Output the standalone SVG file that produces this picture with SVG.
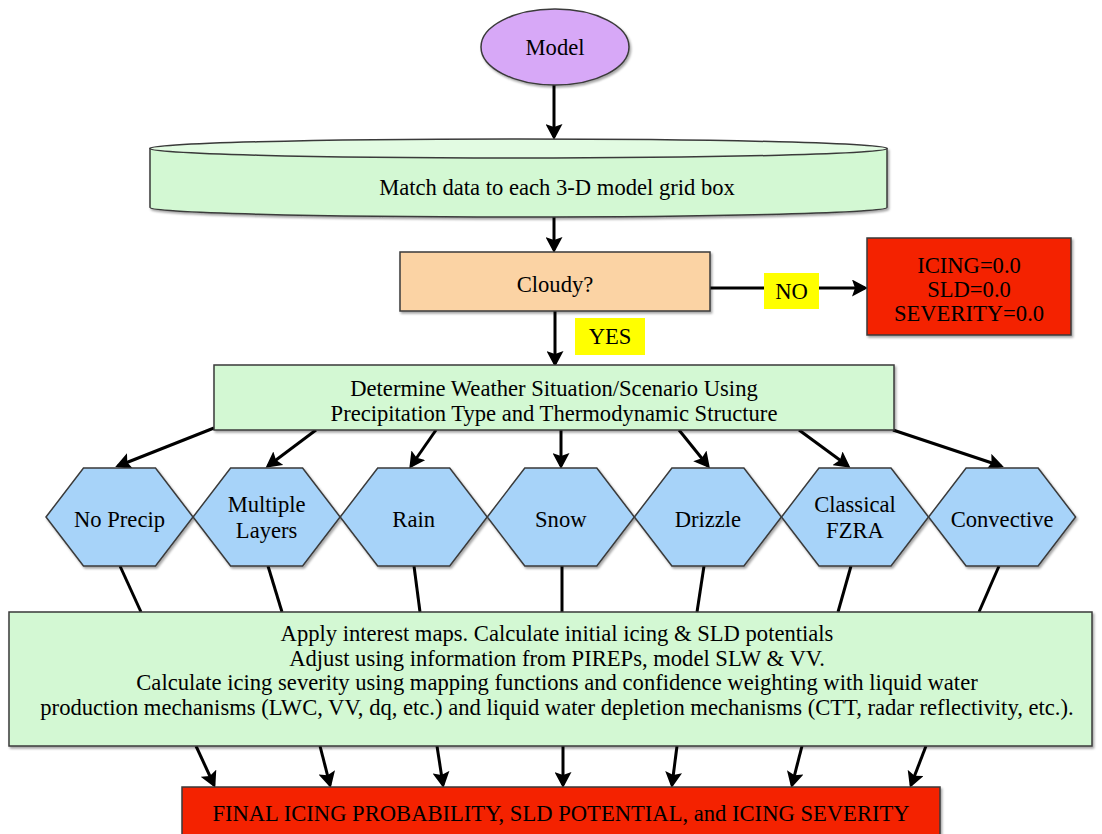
<svg xmlns="http://www.w3.org/2000/svg" width="1102" height="834" viewBox="0 0 1102 834">
<style>
  text { font-family: "Liberation Serif", "Times New Roman", serif; font-size: 22.6px; fill: #000; text-anchor: middle; }
  .box { stroke: #3a3a3a; stroke-width: 1.5; }
  .green { fill: #d3f8d3; }
  .hex { fill: #a7d3f9; stroke: #3a3a3a; stroke-width: 1.5; }
  .red { fill: #f42300; }
  .yellow { fill: #ffff00; stroke: none; }
  .conn line, .conn path { stroke: #000; stroke-width: 3; fill: none; }
  .arr { marker-end: url(#ah); }
</style>
<defs>
  <marker id="ah" markerUnits="userSpaceOnUse" markerWidth="17" markerHeight="17" refX="13" refY="8.5" orient="auto" viewBox="0 0 17 17">
    <path d="M0,0 L16,8.5 L0,17 L3,8.5 Z" fill="#000"/>
  </marker>
  <filter id="sh" x="-5%" y="-10%" width="110%" height="130%">
    <feDropShadow dx="1.5" dy="2" stdDeviation="1.2" flood-color="#000" flood-opacity="0.35"/>
  </filter>
</defs>
<rect width="1102" height="834" fill="#fff"/>

<g class="conn">
  <line class="arr" x1="554" y1="85" x2="554" y2="137"/>
  <line class="arr" x1="554" y1="217" x2="554" y2="250"/>
  <line x1="710" y1="288" x2="764" y2="288"/>
  <line class="arr" x1="819" y1="288" x2="865" y2="288"/>
  <line class="arr" x1="555" y1="311" x2="555" y2="364"/>
  <line class="arr" x1="214" y1="428" x2="118" y2="466"/>
  <line class="arr" x1="316" y1="430" x2="268" y2="466"/>
  <line class="arr" x1="436" y1="430" x2="411" y2="466"/>
  <line class="arr" x1="561" y1="430" x2="561" y2="466"/>
  <line class="arr" x1="679" y1="430" x2="708" y2="466"/>
  <line class="arr" x1="799" y1="430" x2="848" y2="466"/>
  <line class="arr" x1="893" y1="430" x2="1001" y2="466"/>
  <line x1="120" y1="566" x2="141" y2="612"/>
  <line x1="268" y1="566" x2="282" y2="612"/>
  <line x1="414" y1="566" x2="420" y2="612"/>
  <line x1="562" y1="566" x2="562" y2="612"/>
  <line x1="704" y1="566" x2="697" y2="612"/>
  <line x1="851" y1="566" x2="838" y2="612"/>
  <line x1="999" y1="566" x2="979" y2="612"/>
  <line class="arr" x1="196" y1="746" x2="214" y2="785"/>
  <line class="arr" x1="320" y1="746" x2="330" y2="785"/>
  <line class="arr" x1="437" y1="746" x2="443" y2="785"/>
  <line class="arr" x1="563" y1="746" x2="563" y2="785"/>
  <line class="arr" x1="677" y1="746" x2="672" y2="785"/>
  <line class="arr" x1="802" y1="746" x2="792" y2="785"/>
  <line class="arr" x1="926" y1="746" x2="911" y2="785"/>
</g>

<g id="model">
  <ellipse cx="555" cy="47" rx="74" ry="38" fill="#d7a8f7" class="box" filter="url(#sh)"/>
  <text x="555" y="55">Model</text>
</g>

<g id="match">
  <path d="M150,148.5 L150,207.5 A368.5,9.5 0 0 0 887,207.5 L887,148.5 Z" class="box green" filter="url(#sh)"/>
  <ellipse cx="518.5" cy="148.5" rx="368.5" ry="9.5" fill="#e2fbe2" class="box"/>
  <text x="557" y="195">Match data to each 3-D model grid box</text>
</g>

<g id="cloudy">
  <rect x="400" y="252" width="310" height="59" fill="#fbd3a4" class="box" filter="url(#sh)"/>
  <text x="555" y="292">Cloudy?</text>
</g>

<g id="no-label">
  <rect x="764" y="273" width="55" height="36" class="yellow"/>
  <text x="791.5" y="299">NO</text>
</g>

<g id="zero">
  <rect x="867" y="238" width="204" height="97" class="box red" filter="url(#sh)"/>
  <text x="969" y="273">ICING=0.0</text>
  <text x="969" y="297">SLD=0.0</text>
  <text x="969" y="321">SEVERITY=0.0</text>
</g>

<g id="yes-label">
  <rect x="575" y="318" width="70" height="37" class="yellow"/>
  <text x="610" y="344">YES</text>
</g>

<g id="determine">
  <rect x="214" y="365" width="680" height="65" class="box green" filter="url(#sh)"/>
  <text x="554" y="396">Determine Weather Situation/Scenario Using</text>
  <text x="554" y="421">Precipitation Type and Thermodynamic Structure</text>
</g>

<g id="hex-noprecip">
  <polygon points="46,517 83.5,468 155.5,468 193,517 155.5,566 83.5,566" class="hex" filter="url(#sh)"/>
  <text x="119.5" y="527">No Precip</text>
</g>
<g id="hex-multiple">
  <polygon points="193.1,517 230.6,468 302.6,468 340.1,517 302.6,566 230.6,566" class="hex" filter="url(#sh)"/>
  <text x="266.6" y="512">Multiple</text>
  <text x="266.6" y="538">Layers</text>
</g>
<g id="hex-rain">
  <polygon points="340.2,517 377.7,468 449.7,468 487.2,517 449.7,566 377.7,566" class="hex" filter="url(#sh)"/>
  <text x="413.7" y="527">Rain</text>
</g>
<g id="hex-snow">
  <polygon points="487.3,517 524.8,468 596.8,468 634.3,517 596.8,566 524.8,566" class="hex" filter="url(#sh)"/>
  <text x="560.8" y="527">Snow</text>
</g>
<g id="hex-drizzle">
  <polygon points="634.4,517 671.9,468 743.9,468 781.4,517 743.9,566 671.9,566" class="hex" filter="url(#sh)"/>
  <text x="707.9" y="527">Drizzle</text>
</g>
<g id="hex-fzra">
  <polygon points="781.5,517 819,468 891,468 928.5,517 891,566 819,566" class="hex" filter="url(#sh)"/>
  <text x="855" y="512">Classical</text>
  <text x="855" y="538">FZRA</text>
</g>
<g id="hex-convective">
  <polygon points="928.6,517 966.1,468 1038.1,468 1075.6,517 1038.1,566 966.1,566" class="hex" filter="url(#sh)"/>
  <text x="1002.1" y="527">Convective</text>
</g>

<g id="apply">
  <rect x="9" y="612" width="1083" height="134" class="box green" filter="url(#sh)"/>
  <text x="557" y="641">Apply interest maps. Calculate initial icing &amp; SLD potentials</text>
  <text x="557" y="665.5">Adjust using information from PIREPs, model SLW &amp; VV.</text>
  <text x="557" y="690">Calculate icing severity using mapping functions and confidence weighting with liquid water</text>
  <text x="557" y="714.5">production mechanisms (LWC, VV, dq, etc.) and liquid water depletion mechanisms (CTT, radar reflectivity, etc.).</text>
</g>

<g id="final">
  <rect x="182" y="787" width="758" height="60" class="box red" filter="url(#sh)"/>
  <text x="561" y="821">FINAL ICING PROBABILITY, SLD POTENTIAL, and ICING SEVERITY</text>
</g>
</svg>
